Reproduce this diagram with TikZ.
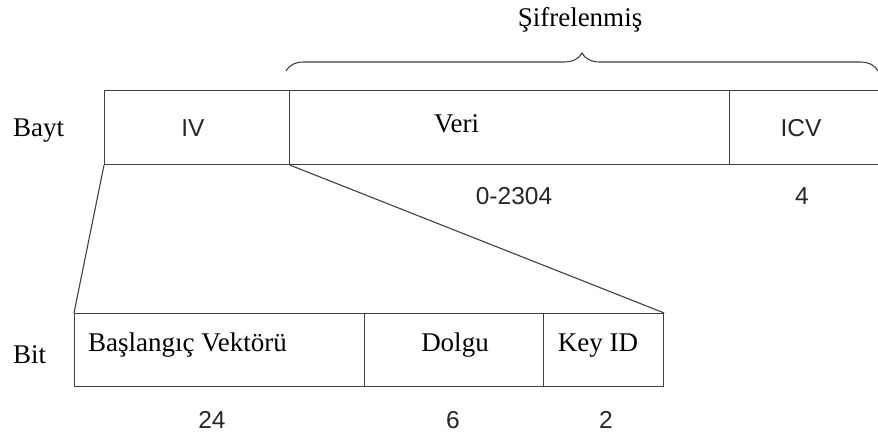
\documentclass[tikz,border=0pt]{standalone}
\usepackage{fontspec}
\setmainfont{Liberation Serif}
\setsansfont{Liberation Sans}
\usetikzlibrary{decorations.pathreplacing}

\tikzset{
    field/.style={draw=black!75, line width=1.2pt, rectangle, anchor=north west, inner sep=0pt, minimum height=74pt},
    rm/.style={inner sep=0pt, font=\fontsize{27}{30}\selectfont},
    sf/.style={inner sep=0pt, font=\sffamily\fontsize{24.5}{28}\selectfont, text=black!85}
}

\begin{document}
\begin{tikzpicture}[x=1pt, y=-1pt]

    % frame of the whole picture, the top row runs off the right edge
    \useasboundingbox (0,0) rectangle (878,438);
    \clip (0,0) rectangle (878,438);

    % Byte row
    \node[field, minimum width=185pt] (iv) at (104,90) {};
    \node[field, minimum width=440pt] (veri) at (289,90) {};
    \node[field, minimum width=170pt] (icv) at (729,90) {};

    \node[rm, anchor=base west] (bayt) at (13,137) {Bayt};
    \node[sf, anchor=base] (ivtxt) at (193,137) {IV};
    \node[rm, anchor=base west] (veritxt) at (434,133) {Veri};
    \node[sf, anchor=base] (icvtxt) at (801,137) {ICV};

    \node[sf, anchor=base] (verilen) at (514,205) {0-2304}; % sizes in bytes
    \node[sf, anchor=base] (icvlen) at (802,205) {4};

    % brace over the encrypted part
    \coordinate (brl) at (286,71);
    \coordinate (brr) at (878,71);
    \draw[black!75, line width=1.1pt, decorate, decoration={brace, amplitude=18pt}] (brl) -- (brr);
    \node[rm, anchor=base] (sifre) at (580,27) {Şifrelenmiş};

    % Bit row, the IV field opened up
    \node[field, minimum width=290pt, minimum height=73pt] (bvek) at (74,313) {};
    \node[field, minimum width=179pt, minimum height=73pt] (dolgu) at (364,313) {};
    \node[field, minimum width=120pt, minimum height=73pt] (keyid) at (543,313) {};

    \node[rm, anchor=base west] (bit) at (13,363) {Bit};
    \node[rm, anchor=base west] (bvektxt) at (88,351) {Başlangıç Vektörü};
    \node[rm, anchor=base] (dolgutxt) at (455,351) {Dolgu};
    \node[rm, anchor=base] (keyidtxt) at (598,351) {Key ID};

    \node[sf, anchor=base] (bveklen) at (212,428) {24}; % sizes in bits
    \node[sf, anchor=base] (dolgulen) at (453,428) {6};
    \node[sf, anchor=base] (keyidlen) at (606,428) {2};

    % zoom lines from IV down to the bit row
    \draw[black!75, line width=1.1pt] (iv.south west) -- (bvek.north west);
    \draw[black!75, line width=1.1pt] (iv.south east) -- (keyid.north east);

\end{tikzpicture}
\end{document}
